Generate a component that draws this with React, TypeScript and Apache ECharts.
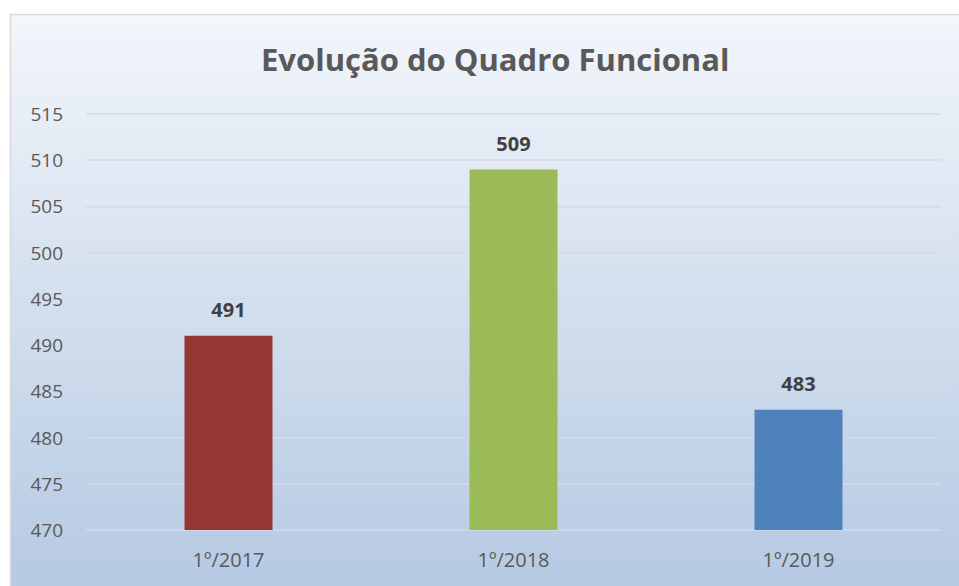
import React, { useEffect, useRef } from "react";
import * as echarts from "echarts";

const categories = ["1º/2017", "1º/2018", "1º/2019"];
const values = [491, 509, 483];
const barColors = ["#943634", "#9BBB59", "#4F81BD"];
const titleText = "Evolução do Quadro Funcional";

export default function App() {
  const ref = useRef<HTMLDivElement>(null);
  useEffect(() => {
    if (!ref.current) return;
    const chart = echarts.init(ref.current, null, { renderer: "svg" });
    chart.setOption({
      animation: false,
      backgroundColor: "#ffffff",
      graphic: [
        {
          type: "rect",
          z: -10,
          silent: true,
          shape: { x: 10.5, y: 14.5, width: 960, height: 580 },
          style: {
            fill: new echarts.graphic.LinearGradient(0, 0, 0, 1, [
              { offset: 0, color: "#f3f6fb" },
              { offset: 0.45, color: "#d6e1ef" },
              { offset: 1, color: "#b5c9e3" },
            ]),
            stroke: "#d9d9d9",
            lineWidth: 1.5,
          },
        },
      ],
      title: {
        text: titleText,
        left: 256,
        top: 38,
        textStyle: {
          fontFamily: "Open Sans",
          fontSize: 31,
          fontWeight: "bold",
          color: "#595959",
        },
      },
      grid: { left: 86, right: 18, top: 114, bottom: 56, containLabel: false },
      xAxis: {
        type: "category",
        data: categories,
        axisLine: { show: false },
        axisTick: { show: false },
        axisLabel: {
          margin: 19,
          fontFamily: "Open Sans",
          fontSize: 20,
          color: "#595959",
        },
      },
      yAxis: {
        type: "value",
        min: 470,
        max: 515,
        interval: 5,
        axisLine: { show: false },
        axisTick: { show: false },
        axisLabel: {
          margin: 23,
          fontFamily: "Open Sans",
          fontSize: 19,
          color: "#595959",
        },
        splitLine: { lineStyle: { color: "#d3dbe6", width: 1.5 } },
      },
      series: [
        {
          type: "bar",
          barWidth: 88,
          data: values.map((v, i) => ({ value: v, itemStyle: { color: barColors[i] } })),
          label: {
            show: true,
            position: "top",
            distance: 16,
            fontFamily: "Open Sans",
            fontSize: 20,
            fontWeight: "bold",
            color: "#404040",
          },
        },
      ],
    });
    return () => chart.dispose();
  }, []);
  return (
    <div
      ref={ref}
      style={{ position: "fixed", left: 0, top: 0, width: 959, height: 586 }}
    />
  );
}
